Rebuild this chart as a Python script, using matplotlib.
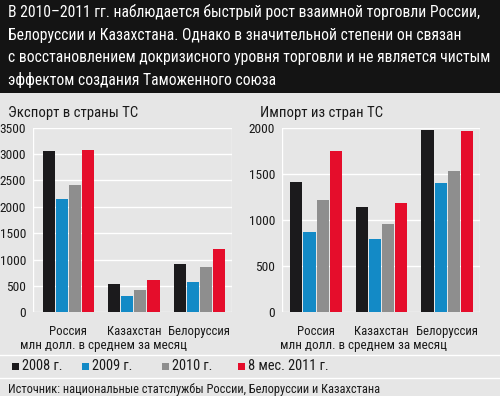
import matplotlib
matplotlib.use("Agg")
import matplotlib.pyplot as plt
from matplotlib import font_manager
from matplotlib.patches import Rectangle
from matplotlib.lines import Line2D

names = {f.name for f in font_manager.fontManager.ttflist}
if 'Roboto Condensed' in names:
    plt.rcParams['font.family'] = ['Roboto Condensed', 'DejaVu Sans']
    STRETCH = 'normal'
else:
    plt.rcParams['font.family'] = ['DejaVu Sans']
    STRETCH = 'condensed'
plt.rcParams['font.stretch'] = STRETCH

categories = ['Россия', 'Казахстан', 'Белоруссия']
series_labels = ['2008 г.', '2009 г.', '2010 г.', '8 мес. 2011 г.']
colors = ['#1b1a1c', '#138ac6', '#8e8e8e', '#e50d2b']

export_2008 = [3060, 540, 910]
export_2009 = [2150, 310, 580]
export_2010 = [2420, 430, 850]
export_2011 = [3080, 610, 1200]

import_2008 = [1410, 1140, 1975]
import_2009 = [870, 790, 1400]
import_2010 = [1215, 955, 1535]
import_2011 = [1750, 1185, 1965]

export_ticks = [0, 500, 1000, 1500, 2000, 2500, 3000, 3500]
import_ticks = [0, 500, 1000, 1500, 2000]

title_lines = [
    'В 2010–2011 гг. наблюдается быстрый рост взаимной торговли России,',
    'Белоруссии и Казахстана. Однако в значительной степени он связан',
    'с восстановлением докризисного уровня торговли и не является чистым',
    'эффектом создания Таможенного союза',
]

W, H = 500, 396
BG = '#e6e6e6'
TXT = '#1a1a1a'
fig = plt.figure(figsize=(W / 100, H / 100), dpi=100, facecolor=BG)

def fx(x):
    return x / W

def fy(y):
    return 1 - y / H

# title bar
fig.patches.append(Rectangle((0, fy(93)), 1, 93 / H, transform=fig.transFigure,
                             facecolor='#141414', edgecolor='none', zorder=0))
for i, line in enumerate(title_lines):
    fig.text(fx(8), fy(17.5 + i * 22.4), line, color='white', fontsize=11.25,
             va='baseline', ha='left')

def make_axes(rect, series, ticks, ymax, xlim):
    ax = fig.add_axes(rect)
    ax.set_facecolor('none')
    for s in ax.spines.values():
        s.set_visible(False)
    x = list(range(len(categories)))
    offs = [-0.3, -0.1, 0.1, 0.3]
    for vals, c, o in zip(series, colors, offs):
        ax.bar([xi + o for xi in x], vals, width=0.185, color=c, zorder=3)
    ax.set_ylim(0, ymax)
    ax.set_xlim(*xlim)
    ax.set_yticks(ticks)
    ax.set_yticklabels([str(t) for t in ticks])
    ax.grid(axis='y', color='white', linewidth=1.0, zorder=1)
    ax.axvline(xlim[0], color='white', linewidth=1.0, zorder=1)
    ax.axvline(xlim[1], color='white', linewidth=1.0, zorder=1)
    ax.set_xticks(x)
    ax.set_xticklabels(categories)
    ax.tick_params(axis='y', length=0, labelsize=9.6, colors=TXT, pad=5)
    ax.tick_params(axis='x', length=0, labelsize=9.2, colors=TXT, pad=9)
    return ax

ax1 = make_axes([fx(33), fy(312.3), 199 / W, 184.6 / H],
                [export_2008, export_2009, export_2010, export_2011],
                export_ticks, 3500, (-0.54, 2.5))
ax2 = make_axes([fx(282), fy(312.3), 198 / W, 184.6 / H],
                [import_2008, import_2009, import_2010, import_2011],
                import_ticks, 2000, (-0.52, 2.5))

fig.text(fx(8), fy(113), 'Экспорт в страны ТС', fontsize=10.6, va='center', ha='left', color=TXT)
fig.text(fx(260), fy(113), 'Импорт из стран ТС', fontsize=10.6, va='center', ha='left', color=TXT)

fig.text(fx(20), fy(345), 'млн долл. в среднем за месяц', fontsize=9.4, va='center', ha='left', color=TXT)
fig.text(fx(280), fy(345), 'млн долл. в среднем за месяц', fontsize=9.4, va='center', ha='left', color=TXT)

# separators
for yy in (354.5, 377.5):
    fig.add_artist(Line2D([0, 1], [fy(yy), fy(yy)], transform=fig.transFigure, color='white', linewidth=1.0))

# legend
leg_x = [12, 82, 162, 238]
for xx, lab, c in zip(leg_x, series_labels, colors):
    fig.patches.append(Rectangle((fx(xx), fy(369.5)), 7 / W, 7 / H, transform=fig.transFigure,
                                 facecolor=c, edgecolor='none'))
    fig.text(fx(xx + 9.5), fy(366), lab, fontsize=10.4, va='center', ha='left', color=TXT)

fig.text(fx(8), fy(389), 'Источник: национальные статслужбы России, Белоруссии и Казахстана',
         fontsize=8.9, va='center', ha='left', color=TXT)

fig.savefig('out.png', dpi=100, facecolor=BG)
